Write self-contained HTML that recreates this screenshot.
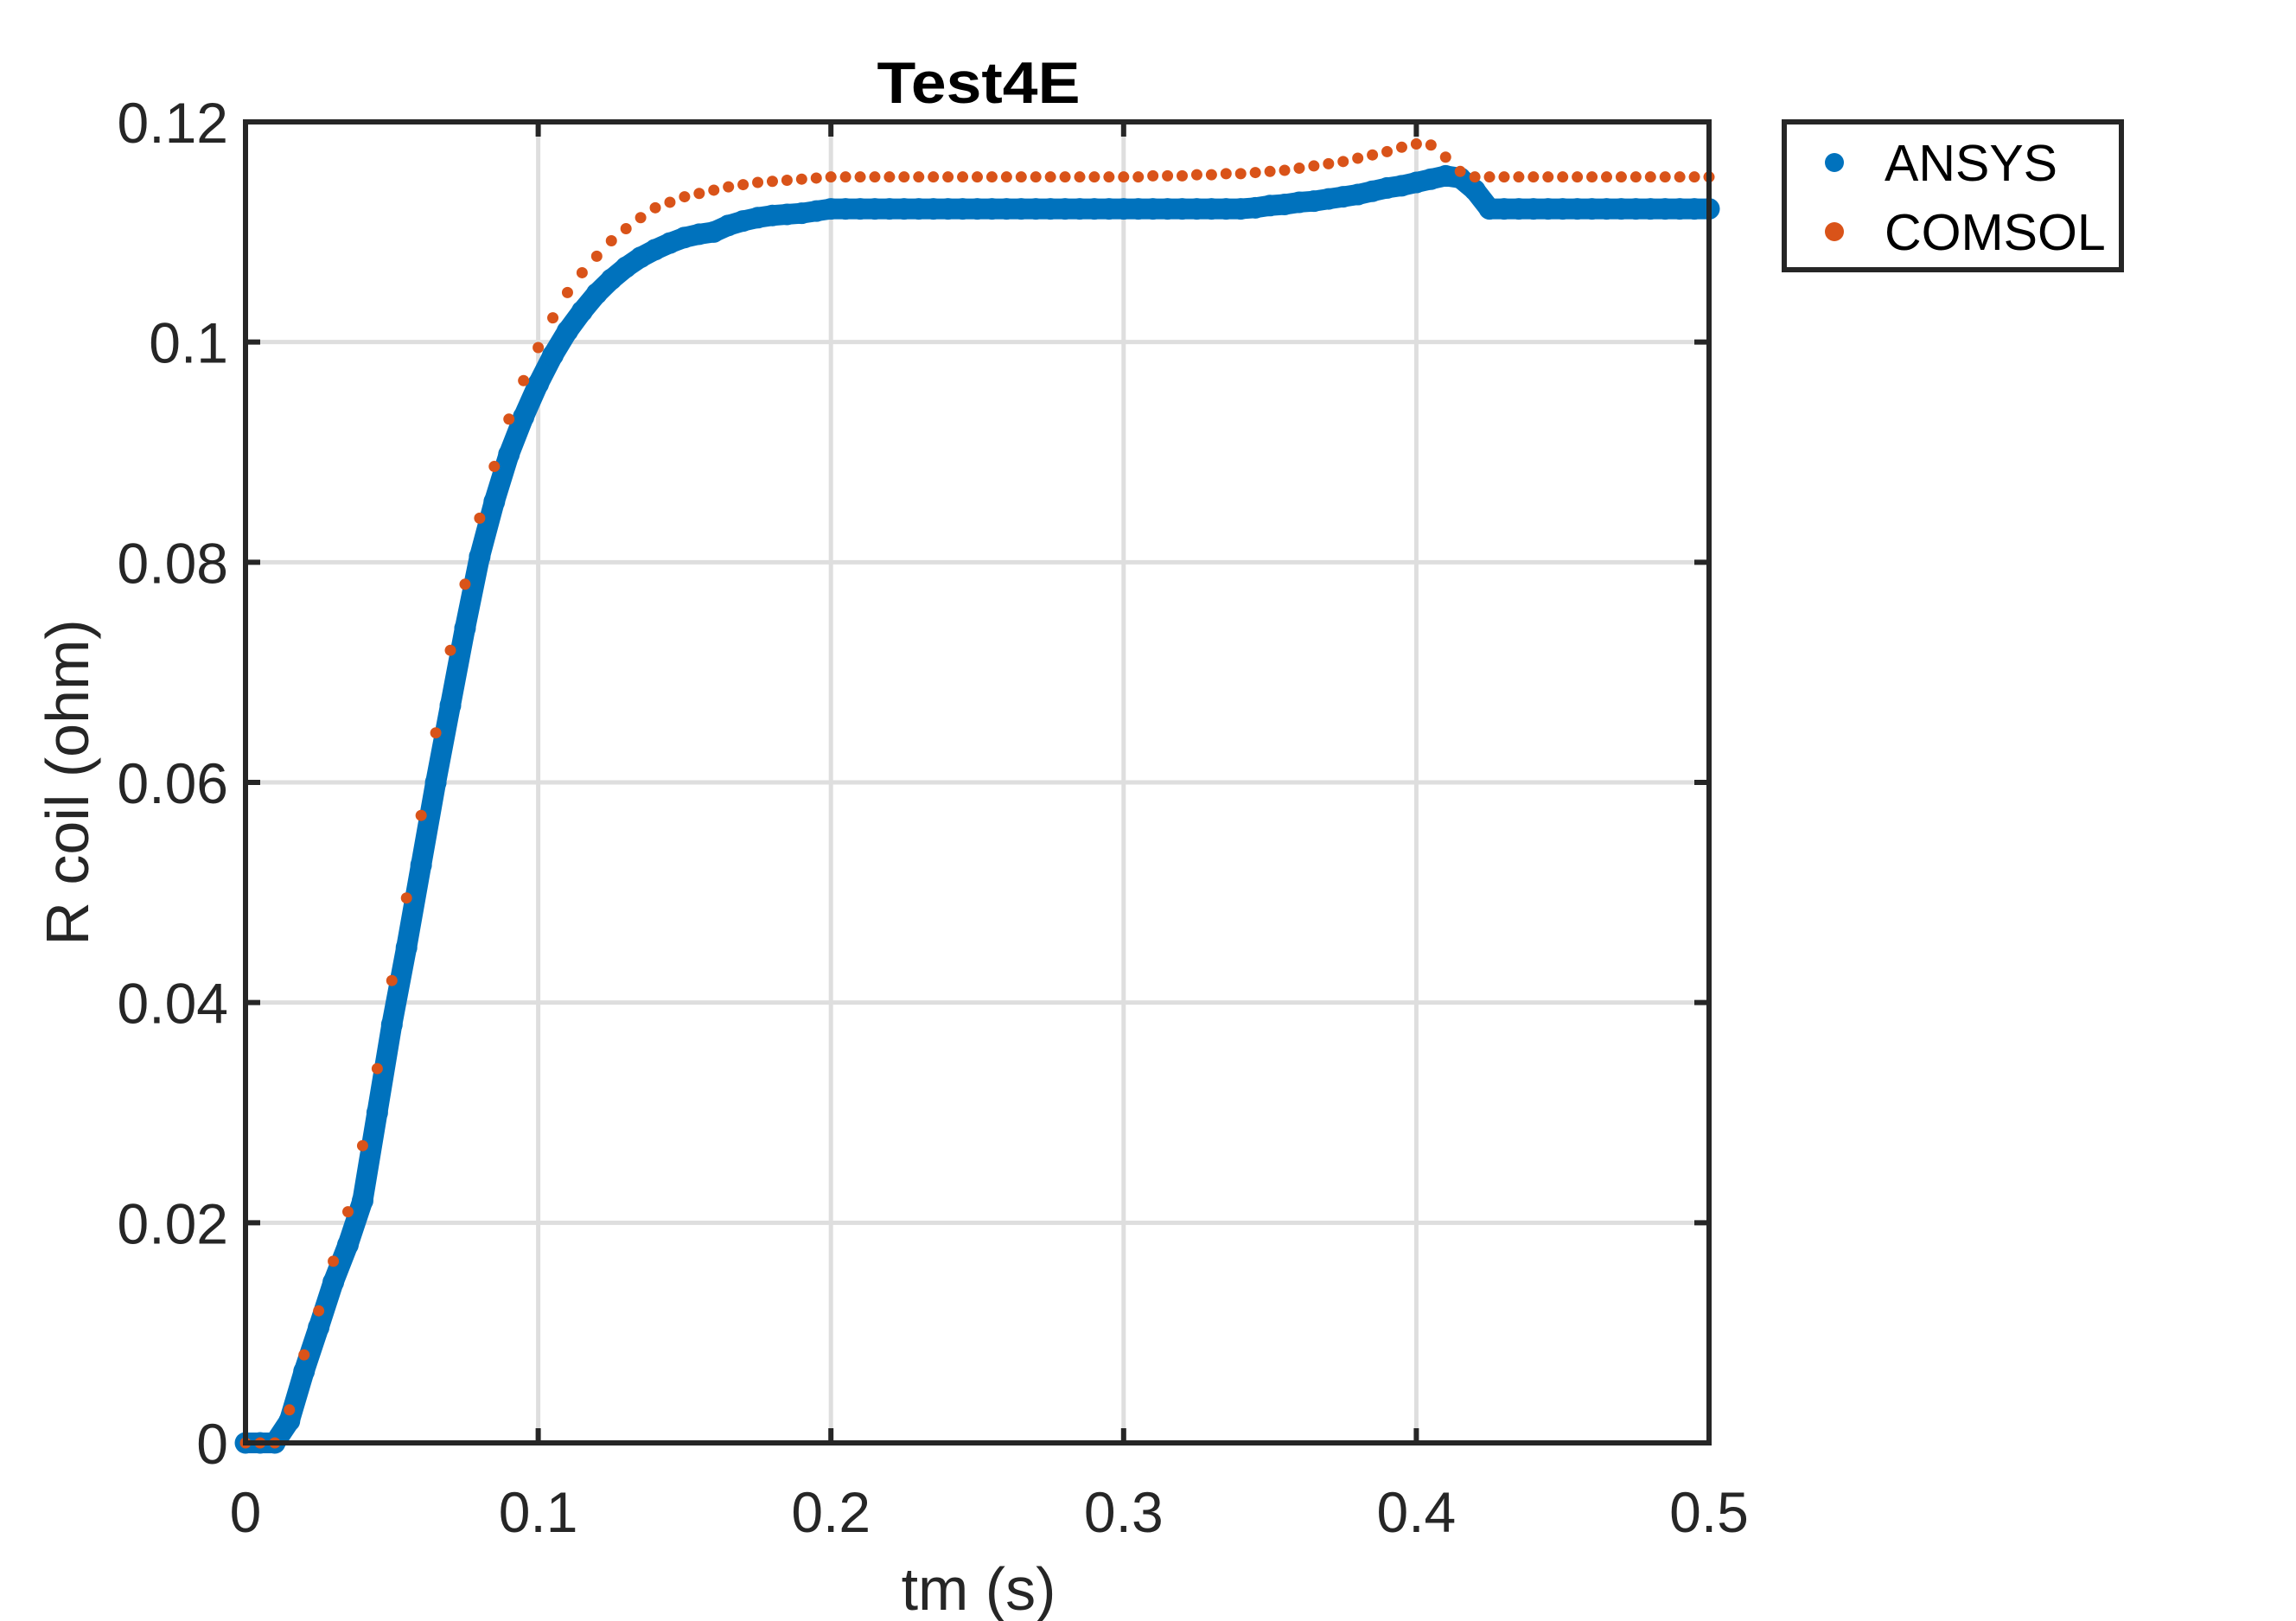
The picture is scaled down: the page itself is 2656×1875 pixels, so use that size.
<!DOCTYPE html>
<html><head><meta charset="utf-8"><style>
html,body{margin:0;padding:0;background:#fff;}
svg{display:block;font-family:"Liberation Sans",Arial,sans-serif;}
</style></head><body>
<svg id="chart" width="2656" height="1875" viewBox="0 0 2656 1875" xmlns="http://www.w3.org/2000/svg">
<rect x="0" y="0" width="2656" height="1875" fill="#fff"/>
<g id="grid"></g>
<g id="series"></g>
<g id="axes"></g>
<text x="1132" y="119" text-anchor="middle" font-size="68" font-weight="bold" fill="#000" textLength="235" lengthAdjust="spacingAndGlyphs">Test4E</text>
<text x="1132" y="1862" text-anchor="middle" font-size="70" fill="#262626">tm (s)</text>
<text transform="translate(102,905) rotate(-90)" text-anchor="middle" font-size="70" fill="#262626">R coil (ohm)</text>
<g>
<rect x="2064" y="141" width="390" height="171" fill="#fff" stroke="#262626" stroke-width="6"/>
<circle cx="2122" cy="188" r="11" fill="#0072bd"/>
<text x="2180" y="209" font-size="59" fill="#000">ANSYS</text>
<circle cx="2122" cy="268" r="11" fill="#d95319"/>
<text x="2180" y="289" font-size="59" fill="#000">COMSOL</text>
</g>
</svg>
<script>
const xTicks = [0, 0.1, 0.2, 0.3, 0.4, 0.5];
const xTickLabels = ["0", "0.1", "0.2", "0.3", "0.4", "0.5"];
const yTicks = [0, 0.02, 0.04, 0.06, 0.08, 0.1, 0.12];
const yTickLabels = ["0", "0.02", "0.04", "0.06", "0.08", "0.1", "0.12"];
const tStart = 0, tStep = 0.005;
const ansysValues = [0,0,0,0.002,0.0065,0.0105,0.0146,0.018,0.022,0.030,0.038,0.045,0.0525,0.060,0.067,0.074,0.0805,0.0855,0.0898,0.0932,0.0962,0.0988,0.101,0.1028,0.1044,0.1057,0.1068,0.1077,0.1084,0.109,0.1095,0.1098,0.110,0.1106,0.111,0.1113,0.1115,0.1116,0.1117,0.1119,
0.1121,0.1121,0.1121,0.1121,0.1121,0.1121,0.1121,0.1121,0.1121,0.1121,0.1121,0.1121,0.1121,0.1121,0.1121,0.1121,0.1121,0.1121,0.1121,0.1121,0.1121,0.1121,0.1121,0.1121,0.1121,0.1121,0.1121,0.1121,0.1121,
0.1122,0.1124,0.1125,0.1127,0.1128,0.113,0.1132,0.1134,0.1137,0.114,0.1142,0.1145,0.1148,0.1151,0.1149,0.1138,
0.1121,0.1121,0.1121,0.1121,0.1121,0.1121,0.1121,0.1121,0.1121,0.1121,0.1121,0.1121,0.1121,0.1121,0.1121,0.1121];
const comsolValues = [0,0,0,0.003,0.008,0.012,0.0165,0.021,0.027,0.034,0.042,0.0495,0.057,0.0645,0.072,0.078,0.084,0.0887,0.093,0.0965,0.0995,0.1022,0.1045,0.1063,0.1078,0.1092,0.1103,0.1113,0.1122,0.1127,0.1132,0.1135,0.1138,0.1141,0.1143,0.1145,0.1146,0.1147,0.1148,0.1149,
0.115,0.115,0.115,0.115,0.115,0.115,0.115,0.115,0.115,0.115,0.115,0.115,0.115,0.115,0.115,0.115,0.115,0.115,0.115,0.115,0.115,
0.115,0.1151,0.1151,0.1151,0.1152,0.1152,0.1153,0.1153,0.1154,0.1155,0.1156,0.1158,0.116,0.1162,0.1164,0.1167,0.117,0.1173,0.1177,0.118,0.1179,0.1168,0.1155,0.115,
0.115,0.115,0.115,0.115,0.115,0.115,0.115,0.115,0.115,0.115,0.115,0.115,0.115,0.115,0.115,0.115];

const L = 284, R = 1977, T = 141, B = 1669;
const xMin = 0, xMax = 0.5, yMin = 0, yMax = 0.12;
const NS = 'http://www.w3.org/2000/svg';
function xs(v) { return L + (v - xMin) / (xMax - xMin) * (R - L); }
function ys(v) { return B - (v - yMin) / (yMax - yMin) * (B - T); }
function mk(tag, attrs, parent) {
  const e = document.createElementNS(NS, tag);
  for (const k in attrs) e.setAttribute(k, attrs[k]);
  parent.appendChild(e);
  return e;
}
const grid = document.getElementById('grid');
const axes = document.getElementById('axes');
const series = document.getElementById('series');

xTicks.forEach((v, i) => {
  const x = xs(v);
  if (i > 0 && i < xTicks.length - 1) {
    const g = mk('line', {x1: x, y1: T, x2: x, y2: B, stroke: '#dedede', 'stroke-width': 5}, grid);
    
    
  }
  const t1 = mk('line', {x1: x, y1: B, x2: x, y2: B - 17, stroke: '#262626', 'stroke-width': 6}, axes);
  
  
  const t2 = mk('line', {x1: x, y1: T, x2: x, y2: T + 17, stroke: '#262626', 'stroke-width': 6}, axes);
  
  
  const lb = mk('text', {x: x, y: 1772, 'text-anchor': 'middle', 'font-size': 66, fill: '#262626'}, axes);
  lb.textContent = xTickLabels[i];
  
  
});
yTicks.forEach((v, i) => {
  const y = ys(v);
  if (i > 0 && i < yTicks.length - 1) {
    const g = mk('line', {x1: L, y1: y, x2: R, y2: y, stroke: '#dedede', 'stroke-width': 5}, grid);
    
    
  }
  const t1 = mk('line', {x1: L, y1: y, x2: L + 17, y2: y, stroke: '#262626', 'stroke-width': 6}, axes);
  
  
  const t2 = mk('line', {x1: R, y1: y, x2: R - 17, y2: y, stroke: '#262626', 'stroke-width': 6}, axes);
  
  
  const lb = mk('text', {x: 264, y: y + 24, 'text-anchor': 'end', 'font-size': 66, fill: '#262626'}, axes);
  lb.textContent = yTickLabels[i];
  
  
});
const frame = mk('rect', {x: L, y: T, width: R - L, height: B - T, fill: 'none', stroke: '#262626', 'stroke-width': 6}, axes);



// ANSYS series
const ag = mk('g', {}, series);


const pts = ansysValues.map((v, i) => xs(tStart + i * tStep) + ',' + ys(v)).join(' ');
const band = mk('polyline', {points: pts, fill: 'none', stroke: '#0072bd', 'stroke-width': 24, 'stroke-linejoin': 'round', 'stroke-linecap': 'round'}, ag);


ansysValues.forEach((v, i) => {
  const c = mk('circle', {cx: xs(tStart + i * tStep), cy: ys(v), r: 12.5, fill: '#0072bd'}, ag);
  
  
});
// COMSOL series
const cg = mk('g', {}, series);


comsolValues.forEach((v, i) => {
  const c = mk('circle', {cx: xs(tStart + i * tStep), cy: ys(v), r: 6.5, fill: '#d95319'}, cg);
  
  
});
</script>
</body></html>
